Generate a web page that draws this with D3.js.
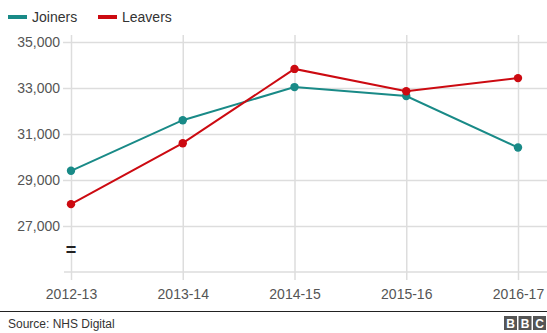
<!DOCTYPE html>
<html><head><meta charset="utf-8">
<script src="https://cdn.jsdelivr.net/npm/d3@7"></script>
<style>body{margin:0;background:#fff;}svg{display:block;font-family:"Liberation Sans",Arial,sans-serif;}</style>
</head><body>
<svg id="c" width="547" height="333"></svg>
<script>
const categories = ["2012-13","2013-14","2014-15","2015-16","2016-17"];
const joiners = [29400, 31600, 33040, 32650, 30410];
const leavers = [27950, 30600, 33830, 32860, 33430];
const yTicks = [27000, 29000, 31000, 33000, 35000];
const seriesNames = ["Joiners","Leavers"];
const colors = ["#198a87","#cc0a11"];

const svg = d3.select("#c");
const x = d3.scalePoint().domain(categories).range([71, 518]);
const y = d3.scaleLinear().domain([25000, 35000]).range([272, 42]);

// horizontal gridlines
const yAxis = d3.axisLeft(y).tickValues(yTicks).tickFormat(d3.format(",")).tickSize(-(547-71)).tickPadding(10);
const gy = svg.append("g").attr("transform","translate(71,0)").call(yAxis);
gy.select(".domain").remove();
gy.selectAll(".tick line").attr("stroke","#dddddd").attr("stroke-width",1.5).attr("x1",-8);
gy.selectAll(".tick text").attr("fill","#555").attr("font-size",14).attr("x",-11);

// bottom baseline
svg.append("line").attr("x1",64).attr("x2",547).attr("y1",y(25000)).attr("y2",y(25000)).attr("stroke","#dddddd").attr("stroke-width",1.5);

// vertical gridlines
const xAxis = d3.axisBottom(x).tickSize(0).tickPadding(0);
const gx = svg.append("g").attr("transform","translate(0,"+y(25000)+")").call(xAxis);
gx.select(".domain").remove();
gx.selectAll(".tick line").attr("stroke","#dddddd").attr("stroke-width",1.5).attr("y1",8).attr("y2",-(y(25000)-35));
gx.selectAll(".tick text").attr("fill","#555").attr("font-size",14).attr("y",17).attr("dy","0.71em");

// axis break symbol
svg.append("text").attr("x",71).attr("y",256).attr("text-anchor","middle").attr("font-size",18).attr("font-weight","bold").attr("fill","#222").text("=");

// lines
const data = [joiners, leavers];
const line = d3.line().x((d,i)=>x(categories[i])).y(d=>y(d));
data.forEach((s,k)=>{
  svg.append("path").datum(s).attr("d",line).attr("fill","none").attr("stroke",colors[k]).attr("stroke-width",2);
  svg.selectAll(null).data(s).enter().append("circle")
    .attr("cx",(d,i)=>x(categories[i])).attr("cy",d=>y(d)).attr("r",4.2).attr("fill",colors[k]);
});

// legend
const legX = [8, 98];
seriesNames.forEach((n,k)=>{
  svg.append("rect").attr("x",legX[k]).attr("y",15).attr("width",19).attr("height",4).attr("fill",colors[k]);
  svg.append("text").attr("x",legX[k]+24).attr("y",22).attr("font-size",14).attr("fill","#333").text(n);
});

// footer
svg.append("line").attr("x1",0).attr("x2",547).attr("y1",311.5).attr("y2",311.5).attr("stroke","#222").attr("stroke-width",1);
svg.append("text").attr("x",8).attr("y",328).attr("font-size",12).attr("fill","#333").text("Source: NHS Digital");
["B","B","C"].forEach((l,i)=>{
  const bx = 504 + i*14.5;
  svg.append("rect").attr("x",bx).attr("y",316).attr("width",13).attr("height",14).attr("fill","#555");
  svg.append("text").attr("x",bx+6.5).attr("y",327.5).attr("text-anchor","middle").attr("font-size",12).attr("font-weight","bold").attr("fill","#fff").text(l);
});
</script>
</body></html>
